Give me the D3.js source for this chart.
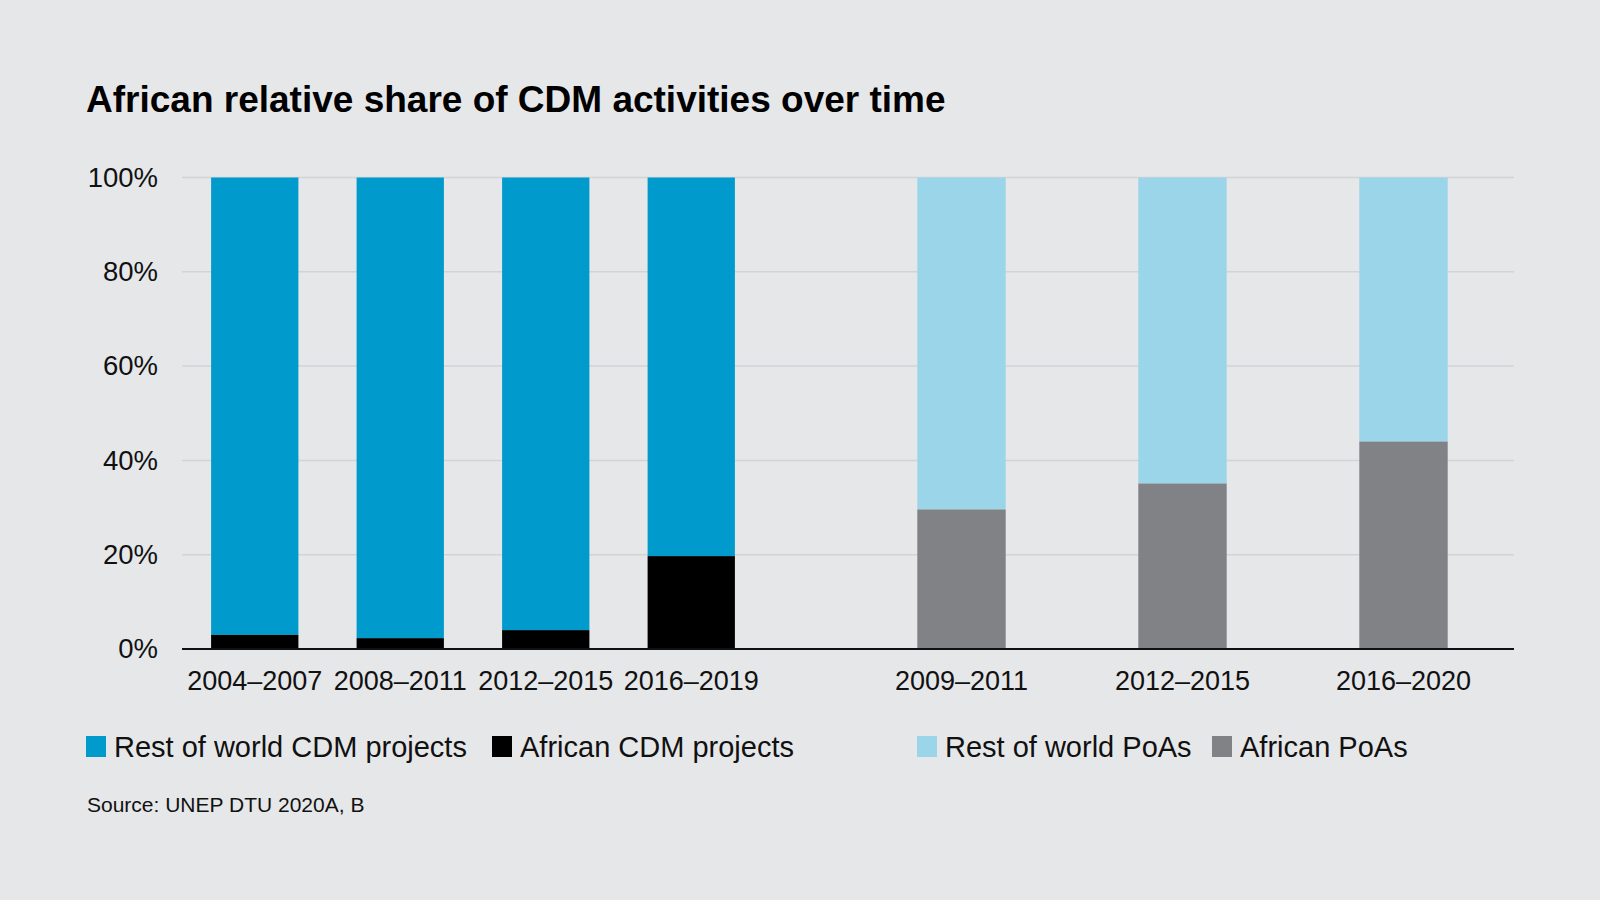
<!DOCTYPE html>
<html>
<head>
<meta charset="utf-8">
<script src="https://cdn.jsdelivr.net/npm/d3@7"></script>
<style>
  body { margin: 0; background: #e6e7e9; }
  text { font-family: "Liberation Sans", Arial, sans-serif; }
</style>
</head>
<body>
<div id="chart"></div>
<script>
// data (percent)
var cdmPeriods = ["2004–2007", "2008–2011", "2012–2015", "2016–2019"];
var cdmAfrica = [3.0, 2.3, 4.0, 19.7];
var cdmRest = [97.0, 97.7, 96.0, 80.3];

var poaPeriods = ["2009–2011", "2012–2015", "2016–2020"];
var poaAfrica = [29.6, 35.1, 44.0];
var poaRest = [70.4, 64.9, 56.0];

var yTicks = [0, 20, 40, 60, 80, 100];
var legendLabels = ["Rest of world CDM projects", "African CDM projects", "Rest of world PoAs", "African PoAs"];

var kleuren = { cdmRest: "#009bcc", cdmAfr: "#000000", poaRest: "#9bd5ea", poaAfr: "#818285" };

var W = 1600, H = 900;
var plotL = 182, plotR = 1514, plotT = 177.5, plotB = 649;

var svg = d3.select("#chart").append("svg")
    .attr("width", W)
    .attr("height", H);

svg.append("rect").attr("width", W).attr("height", H).attr("fill", "#e6e7e9");

// title
svg.append("text")
    .attr("x", 86)
    .attr("y", 112)
    .attr("font-size", 37)
    .attr("font-weight", "bold")
    .attr("fill", "#000")
    .text("African relative share of CDM activities over time");

var y = d3.scaleLinear().domain([0, 100]).range([plotB, plotT]);

// two groups with their own spacing
var x1 = d3.scaleBand().domain(cdmPeriods).range([plotL, 764]).paddingInner(0.4).paddingOuter(0.2);
var x2 = d3.scaleBand().domain(poaPeriods).range([851, plotR]).paddingInner(0.6).paddingOuter(0.3);

// gridlines
svg.selectAll("line.grid")
    .data(yTicks.filter(function (d) { return d > 0; }))
    .enter()
    .append("line")
    .attr("class", "grid")
    .attr("x1", plotL)
    .attr("x2", plotR)
    .attr("y1", function (d) { return y(d); })
    .attr("y2", function (d) { return y(d); })
    .attr("stroke", "#d2d3d6")
    .attr("stroke-width", 1.5);

// y axis
var yAxis = svg.append("g")
    .attr("transform", "translate(" + plotL + ",0)")
    .call(d3.axisLeft(y).tickValues(yTicks).tickSize(0).tickPadding(24).tickFormat(function (d) { return d + "%"; }));
yAxis.select(".domain").remove();
yAxis.selectAll("text")
    .attr("font-size", 27.5)
    .attr("fill", "#111")
    .style("font-family", "'Liberation Sans', Arial, sans-serif");

function bars(cls, x, periods, afr, rest, cAfr, cRest) {
    svg.selectAll("rect." + cls + "r")
        .data(periods)
        .enter()
        .append("rect")
        .attr("class", cls + "r")
        .attr("x", function (d) { return x(d); })
        .attr("width", x.bandwidth())
        .attr("y", function (d, i) { return y(afr[i] + rest[i]); })
        .attr("height", function (d, i) { return y(afr[i]) - y(afr[i] + rest[i]); })
        .attr("fill", cRest);
    svg.selectAll("rect." + cls + "a")
        .data(periods)
        .enter()
        .append("rect")
        .attr("class", cls + "a")
        .attr("x", function (d) { return x(d); })
        .attr("width", x.bandwidth())
        .attr("y", function (d, i) { return y(afr[i]); })
        .attr("height", function (d, i) { return y(0) - y(afr[i]); })
        .attr("fill", cAfr);
}
bars("cdm", x1, cdmPeriods, cdmAfrica, cdmRest, kleuren.cdmAfr, kleuren.cdmRest);
bars("poa", x2, poaPeriods, poaAfrica, poaRest, kleuren.poaAfr, kleuren.poaRest);

// x labels
[x1, x2].forEach(function (x) {
    var g = svg.append("g")
        .attr("transform", "translate(0," + plotB + ")")
        .call(d3.axisBottom(x).tickSize(0).tickPadding(22));
    g.select(".domain").remove();
    g.selectAll("text")
        .attr("font-size", 27)
        .attr("fill", "#111")
        .style("font-family", "'Liberation Sans', Arial, sans-serif");
});

// baseline
svg.append("line")
    .attr("x1", plotL)
    .attr("x2", plotR)
    .attr("y1", y(0))
    .attr("y2", y(0))
    .attr("stroke", "#111")
    .attr("stroke-width", 1.8);

// legend
var legX = [86, 492, 917, 1212];
var legC = [kleuren.cdmRest, kleuren.cdmAfr, kleuren.poaRest, kleuren.poaAfr];
var leg = svg.selectAll("g.leg")
    .data(legendLabels)
    .enter()
    .append("g")
    .attr("class", "leg")
    .attr("transform", function (d, i) { return "translate(" + legX[i] + ",0)"; });
leg.append("rect")
    .attr("x", 0)
    .attr("y", 736)
    .attr("width", 20)
    .attr("height", 21)
    .attr("fill", function (d, i) { return legC[i]; });
leg.append("text")
    .attr("x", 28)
    .attr("y", 757)
    .attr("font-size", 29)
    .attr("fill", "#111")
    .text(function (d) { return d; });

// source
svg.append("text")
    .attr("x", 87)
    .attr("y", 812)
    .attr("font-size", 21)
    .attr("fill", "#111")
    .text("Source: UNEP DTU 2020A, B");
</script>
</body>
</html>
